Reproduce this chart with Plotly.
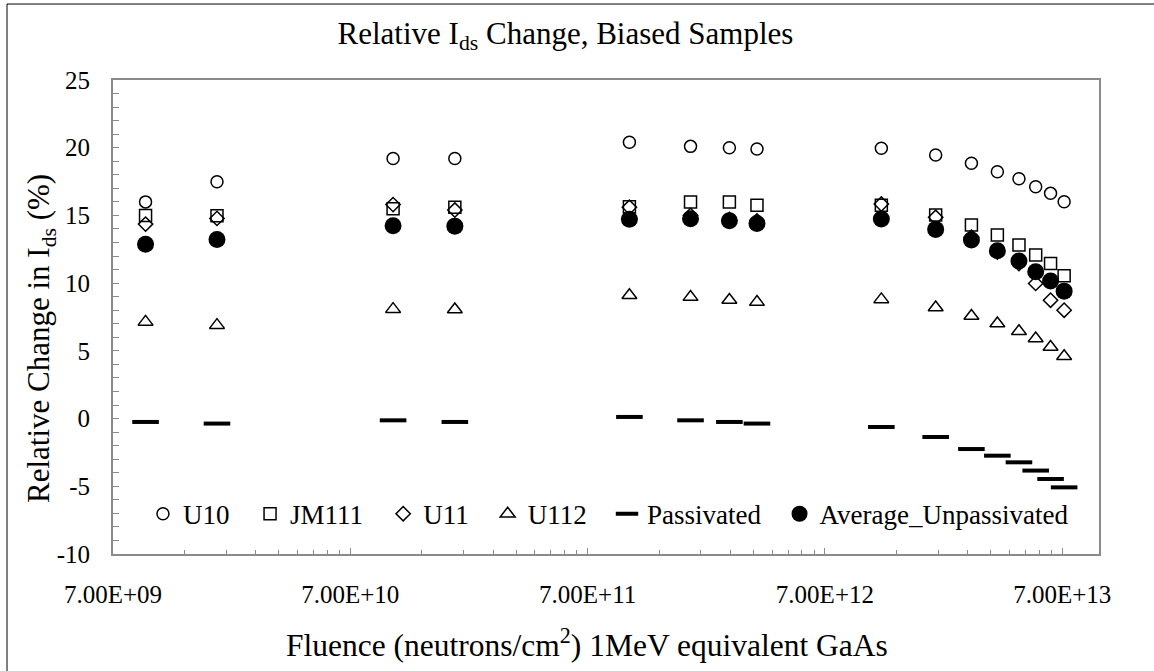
import math
import plotly.graph_objects as go

# Fluence (neutrons/cm^2, 1 MeV equivalent GaAs) for each exposure step
fluence = [9.6e9, 1.92e10, 1.06e11, 1.93e11, 1.05e12, 1.9e12, 2.77e12, 3.62e12,
           1.21e13, 2.05e13, 2.9e13, 3.73e13, 4.6e13, 5.41e13, 6.25e13, 7.13e13]

# Relative change in Ids (%) per sample
u10 = [16.0, 17.49, 19.2, 19.2, 20.4, 20.1, 20.0, 19.9,
       19.96, 19.46, 18.85, 18.23, 17.71, 17.12, 16.63, 16.01]
jm111 = [15.0, 14.98, 15.5, 15.6, 15.64, 16.0, 16.0, 15.75,
         15.76, 15.03, 14.29, 13.55, 12.81, 12.07, 11.45, 10.54]
u11 = [14.36, 14.78, 15.8, 15.4, 15.6, 15.0, 14.7, 14.6,
       15.84, 14.86, 13.4, 12.3, 11.45, 9.98, 8.74, 8.0]
u112 = [7.14, 6.9, 8.08, 8.06, 9.11, 8.97, 8.75, 8.6,
        8.8, 8.2, 7.58, 7.02, 6.45, 5.91, 5.29, 4.6]
passivated = [-0.25, -0.37, -0.13, -0.25, 0.12, -0.13, -0.25, -0.37,
              -0.62, -1.36, -2.25, -2.74, -3.23, -3.84, -4.46, -5.08]
avg_unpassivated = [12.88, 13.23, 14.24, 14.21, 14.71, 14.75, 14.6, 14.4,
                    14.73, 13.97, 13.18, 12.39, 11.63, 10.84, 10.15, 9.41]

# Axis ticks
x_major = [7e9, 7e10, 7e11, 7e12, 7e13]
x_tick_labels = ["7.00E+09", "7.00E+10", "7.00E+11", "7.00E+12", "7.00E+13"]
x_minor = [k * base for base in x_major for k in range(2, 10) if k * base <= 1e14]
y_ticks = [-10, -5, 0, 5, 10, 15, 20, 25]
y_tick_labels = ["-10", "-5", "0", "5", "10", "15", "20", "25"]

FONT = "Liberation Serif"
AXIS_GRAY = "#8a8a8a"

series = [
    ("U10", u10, dict(symbol="circle-open", size=12, color="black", line=dict(width=1.5, color="black"))),
    ("JM111", jm111, dict(symbol="square-open", size=12, color="black", line=dict(width=1.5, color="black"))),
    ("U11", u11, dict(symbol="diamond-open", size=11, color="black", line=dict(width=1.5, color="black"))),
    ("U112", u112, dict(symbol="triangle-up-open", size=13, color="black", line=dict(width=1.5, color="black"))),
    ("Passivated", passivated, dict(symbol="line-ew-open", size=19, color="black", line=dict(width=4, color="black"))),
    ("Average_Unpassivated", avg_unpassivated, dict(symbol="circle", size=17, color="black", line=dict(width=0))),
]

# one legend per series so each entry sits at its own spot along the row
legend_x = [0.0304, 0.139, 0.274, 0.380, 0.501, 0.676]
legend_names = ["legend", "legend2", "legend3", "legend4", "legend5", "legend6"]

fig = go.Figure()
for (name, vals, marker), lg in zip(series, legend_names):
    fig.add_trace(go.Scatter(x=fluence, y=vals, mode="markers", name=name,
                             marker=marker, legend=lg))

legend_layout = {}
for lg, lx in zip(legend_names, legend_x):
    legend_layout[lg] = dict(x=lx, y=0.084, xanchor="left", yanchor="middle",
                             orientation="h", bgcolor="rgba(0,0,0,0)",
                             font=dict(family=FONT, size=27, color="black"),
                             itemwidth=30)

fig.update_layout(
    width=1154, height=671,
    margin=dict(l=113, r=55, t=80, b=117),
    paper_bgcolor="white", plot_bgcolor="white",
    font=dict(family=FONT, color="black"),
    showlegend=True,
    title=dict(text="Relative I<sub>ds</sub> Change, Biased Samples",
               x=0.49, xref="container", xanchor="center",
               y=1 - 33 / 671, yref="container", yanchor="middle",
               font=dict(family=FONT, size=31, color="black")),
    xaxis=dict(type="log", range=[math.log10(7e9), 14.0],
               tickmode="array", tickvals=x_major, ticktext=x_tick_labels,
               ticks="inside", ticklen=6, tickwidth=1, tickcolor=AXIS_GRAY,
               minor=dict(tickmode="array", tickvals=x_minor, ticks="inside",
                          ticklen=4, tickwidth=1, tickcolor=AXIS_GRAY, showgrid=False),
               showline=True, linewidth=2, linecolor=AXIS_GRAY, mirror=True,
               showgrid=False, zeroline=False,
               ticklabelstandoff=17,
               tickfont=dict(family=FONT, size=25, color="black")),
    yaxis=dict(range=[-10, 25], tickmode="array", tickvals=y_ticks,
               ticktext=y_tick_labels,
               ticks="inside", ticklen=6, tickwidth=1, tickcolor=AXIS_GRAY,
               minor=dict(dtick=1, ticks="inside", ticklen=6, tickwidth=1,
                          tickcolor=AXIS_GRAY, showgrid=False),
               showline=True, linewidth=2, linecolor=AXIS_GRAY, mirror=True,
               showgrid=False, zeroline=False,
               ticklabelstandoff=16,
               tickfont=dict(family=FONT, size=25, color="black")),
    **legend_layout,
)

# axis titles
fig.add_annotation(text="Fluence (neutrons/cm<sup>2</sup>) 1MeV equivalent GaAs",
                   xref="paper", yref="paper", x=0.481, y=-0.188,
                   xanchor="center", yanchor="middle", showarrow=False,
                   font=dict(family=FONT, size=31.5, color="black"))
fig.add_annotation(text="Relative Change in I<sub>ds</sub> (%)",
                   xref="paper", yref="paper", x=-0.0723, y=0.455,
                   xanchor="center", yanchor="middle", textangle=-90,
                   showarrow=False,
                   font=dict(family=FONT, size=31, color="black"))

# chart frame
fig.add_shape(type="rect", xref="paper", yref="paper",
              x0=-0.1075, x1=1.2, y0=-0.4, y1=1.1603,
              line=dict(color="black", width=1), fillcolor="rgba(0,0,0,0)", layer="below")

fig.write_html("out.html")
